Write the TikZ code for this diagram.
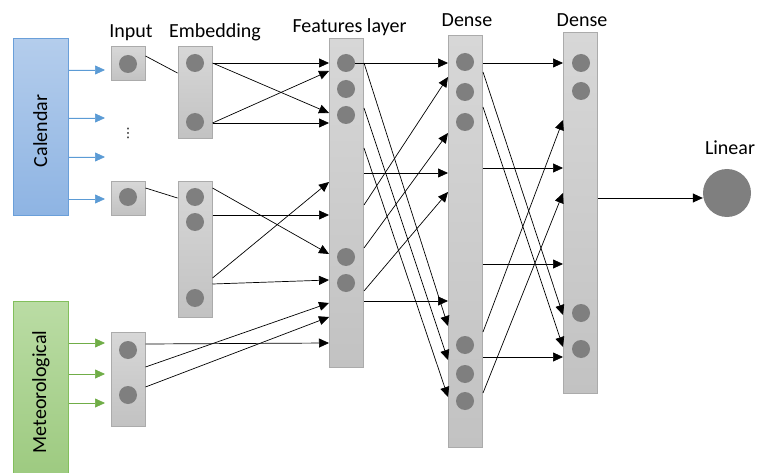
\documentclass[tikz,border=0pt]{standalone}
\usepackage{fontspec}
\setmainfont{Carlito}
\newfontfamily\symbolschrift{DejaVu Sans}
\usetikzlibrary{arrows.meta}

\definecolor{hellgrau}{HTML}{D7D7D7}
\definecolor{dunkelgrau}{HTML}{C2C2C2}
\definecolor{rand}{HTML}{ABABAB}
\definecolor{neuron}{HTML}{7F7F7F}
\definecolor{kaloben}{HTML}{B4CDEC}
\definecolor{kalunten}{HTML}{8EB4E3}
\definecolor{kalrand}{HTML}{6A9FD9}
\definecolor{kalpfeil}{HTML}{5B9BD5}
\definecolor{metoben}{HTML}{BADCA4}
\definecolor{metunten}{HTML}{9DCA80}
\definecolor{metrand}{HTML}{82BF5C}
\definecolor{metpfeil}{HTML}{70AD47}

\tikzset{
	schicht/.style={draw=rand, line width=1pt, top color=hellgrau,
		bottom color=dunkelgrau, minimum width=34pt, inner sep=0pt},
	neuron/.style={circle, fill=neuron, minimum size=18pt, inner sep=0pt},
	linie/.style={line width=0.7pt},
	pfeil/.style={line width=0.7pt, -{Triangle[length=10pt,width=9pt]}},
	titel/.style={anchor=base, inner sep=0pt, font=\fontsize{20}{24}\selectfont},
}

\begin{document}
\begin{tikzpicture}[x=1pt, y=-1pt]
	\useasboundingbox (0,0) rectangle (757,473);

	% Datenquellen
	\node[draw=kalrand, line width=1pt, top color=kaloben, bottom color=kalunten,
	minimum width=55pt, minimum height=176pt] (kal) at (40.5,127) {};
	\node[titel, rotate=90] (kaltext) at (47,131) {Calendar};
	\node[draw=metrand, line width=1pt, top color=metoben, bottom color=metunten,
	minimum width=55pt, minimum height=176pt] (met) at (40.5,389) {};
	\node[titel, rotate=90] (mettext) at (46,392) {Meteorological};

	% Schichten
	\node[schicht, minimum height=34pt] (inA) at (128,64) {};
	\node[schicht, minimum height=33pt] (inB) at (128,198.5) {};
	\node[schicht, minimum height=94pt] (inC) at (128,379) {};
	\node[schicht, minimum height=92pt] (embA) at (195,93) {};
	\node[schicht, minimum height=135pt] (embB) at (195,249.5) {};
	\node[schicht, minimum height=328pt] (feat) at (346.5,203) {};
	\node[schicht, minimum height=411pt] (dA) at (465.5,241.5) {};
	\node[schicht, minimum height=360pt] (dB) at (580.5,213) {};
	\node[inner sep=0pt, font=\symbolschrift\fontsize{13}{13}\selectfont]
		(punkte) at (128,133) {⋮};

	% Neuronen
	\foreach \n/\x/\y in {i1/128/64, i2/128/197, i3/128/350, i4/128/395,
		e1/195/63, e2/195/122, e3/195/197, e4/195/222, e5/195/298,
		f1/346/63, f2/346/89, f3/346/115, f4/346/257, f5/346/283,
		a1/465/62, a2/465/92, a3/465/122, a4/465/345, a5/465/374, a6/465/401,
		b1/581/63, b2/581/91, b3/581/313, b4/581/349}
		\node[neuron] (\n) at (\x,\y) {};
	\node[neuron, minimum size=48pt] (lin) at (727,193) {};

	% Beschriftungen oben
	\node[titel] (tin) at (131,38) {Input};
	\node[titel] (temb) at (215,38) {Embedding};
	\node[titel] (tfeat) at (349.5,33) {Features layer};
	\node[titel] (tdA) at (467,27) {Dense};
	\node[titel] (tdB) at (582,27) {Dense};
	\node[titel] (tlin) at (730,155) {Linear};

	% Pfeile aus den Datenquellen
	\foreach \y in {70,118,157,199}
		\draw[pfeil, draw=kalpfeil, fill=kalpfeil] (kal.east |- 0,\y) -- (105,\y);
	\foreach \y in {343,374,403}
		\draw[pfeil, draw=metpfeil, fill=metpfeil] (met.east |- 0,\y) -- (105,\y);

	% Input -> Embedding
	\draw[linie] (inA.east |- 0,56) -- (embA.west |- 0,73);
	\draw[linie] (inB.east |- 0,188) -- (embB.west |- 0,198);

	% Embedding -> Features
	\foreach \a/\b in {63/63, 63/113, 123/71, 123/123}
		\draw[pfeil] (embA.east |- 0,\a) -- (feat.west |- 0,\b);
	\foreach \a/\b in {188/254, 215/215, 278/182, 284/280}
		\draw[pfeil] (embB.east |- 0,\a) -- (feat.west |- 0,\b);
	\foreach \a/\b in {344/343, 367/303, 387/317}
		\draw[pfeil] (inC.east |- 0,\a) -- (feat.west |- 0,\b);

	% Features -> Dense
	\draw[pfeil] (f1.east) -- (dA.west |- f1);
	\foreach \a/\b in {63/326, 108/360, 148/397, 173/173, 205/77, 248/133,
		291/192, 301/301}
		\draw[pfeil] (feat.east |- 0,\a) -- (dA.west |- 0,\b);

	% Dense -> Dense
	\foreach \a/\b in {63/63, 72/315, 107/347, 168/168, 264/264, 332/120,
		357/357, 393/193}
		\draw[pfeil] (dA.east |- 0,\a) -- (dB.west |- 0,\b);

	% Dense -> Linear
	\draw[pfeil] (dB.east |- 0,198) -- (lin.west |- 0,198);
\end{tikzpicture}
\end{document}
